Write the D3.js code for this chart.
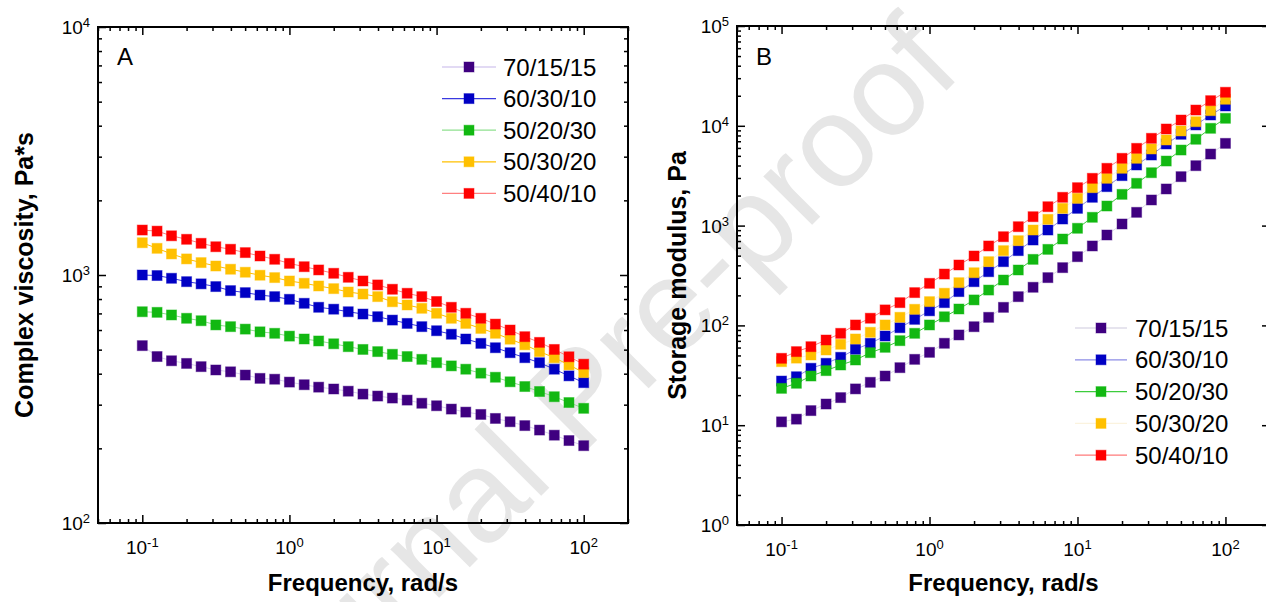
<!DOCTYPE html>
<html><head><meta charset="utf-8">
<script src="https://cdn.jsdelivr.net/npm/d3@7"></script>
<style>
body{margin:0;background:#fff}
svg{display:block}
text{font-family:"Liberation Sans",Arial,sans-serif}
</style>
</head><body>
<svg id="chart" width="1266" height="602"></svg>
<script>
// ---------- DATA ----------
const frequency = [0.1,0.126,0.158,0.2,0.251,0.316,0.398,0.501,0.631,0.794,1,1.26,1.58,2,2.51,3.16,3.98,5.01,6.31,7.94,10,12.6,15.8,20,25.1,31.6,39.8,50.1,63.1,79.4,100];
const seriesNames = ["70/15/15","60/30/10","50/20/30","50/30/20","50/40/10"];

// Panel A: complex viscosity (Pa*s)
const viscosity_70_15_15 = [519,469,451,440,427,414,407,395,383,380,370,361,353,347,340,331,325,319,313,304,297,288,280,274,264,256,247,237,226,215,205];
const viscosity_60_30_10 = [1000,995,970,940,921,898,865,849,830,818,798,769,741,728,711,696,679,658,638,619,596,577,552,530,509,486,464,443,417,392,368];
const viscosity_50_20_30 = [711,707,690,669,654,629,619,605,590,582,567,552,542,528,514,501,491,479,469,457,443,430,417,402,387,371,355,339,323,306,290];
const viscosity_50_30_20 = [1349,1281,1216,1161,1122,1087,1055,1026,998,976,946,926,903,881,854,838,818,780,757,734,701,669,638,609,582,551,523,491,464,434,404];
const viscosity_50_40_10 = [1518,1503,1439,1393,1342,1300,1270,1231,1193,1157,1114,1080,1048,1016,979,946,912,876,844,818,782,741,701,669,634,600,564,535,501,468,437];

// Panel B: storage modulus (Pa)
const storage_70_15_15 = [10.8,11.5,14.0,16.3,18.9,23.1,26.9,31.1,37.7,45.7,53.7,66.2,80.2,97.0,120.5,151.7,194,241,301,379,488,625,805,1038,1358,1806,2328,3093,3984,5212,6670];
const storage_60_30_10 = [27.7,30.6,37.2,41.7,47.9,57.6,66.2,78.3,94.8,115,140,169,218,274,345,435,561,717,903,1164,1489,1921,2455,3166,4048,5096,6574,8223,10190,12830,15790];
const storage_50_20_30 = [23.4,26.3,31.1,35.2,40.1,45.0,53.3,60.3,70.3,83.3,101,122,146,180,226,285,359,459,578,734,940,1211,1571,2057,2652,3388,4436,5717,7328,9438,11890];
const storage_50_30_20 = [43.3,47,50.5,56.7,64.7,73.1,85.3,101,120.6,145,173,210,268,337,435,561,706,903,1156,1489,1875,2399,2977,3751,4724,5859,7208,8872,10990,14170,18440];
const storage_50_40_10 = [46.8,54.6,61.2,71.4,83.3,101,118,143,169,213,264,327,403,496,625,774,975,1228,1546,1921,2399,2977,3751,4724,5946,7493,9290,11430,14390,17860,21680];

const xDomain = [0.05, 200];
const yDomainA = [100, 10000];
const yDomainB = [1, 100000];

// ---------- STYLES ----------
const markerColors = ["#3f0080","#0000c4","#12b812","#ffc000","#ff0000"];
const lineColorsA = ["#d9cef0","#3a3ae0","#8fe08f","#ffc000","#ff8080"];
const lineColorsB = ["#dedbe8","#8c8ce6","#3ccc3c","#fbf3de","#ff7a7a"];

const svg = d3.select("#chart");

// watermark (behind everything)
svg.append("text")
  .attr("transform","translate(609,428) rotate(-45)")
  .attr("text-anchor","middle")
  .attr("font-size",130)
  .attr("fill","#e6e6e6")
  .text("Journal Pre-proof");

const isMajor = v => Math.abs(Math.log10(v) - Math.round(Math.log10(v))) < 1e-6;

function addPow(sel, v){
  const e = Math.round(Math.log10(v));
  sel.text("10");
  sel.append("tspan").attr("dy",-7).attr("font-size",13).text(String(e));
}

function drawPanel(p){
  const x = d3.scaleLog().domain(xDomain).range([p.left, p.right]);
  const y = d3.scaleLog().domain(p.yDomain).range([p.bottom, p.top]);
  const g = svg.append("g");

  // series
  p.series.forEach((vals, i) => {
    const pts = frequency.map((f, j) => [f, vals[j]]);
    g.append("path")
      .attr("d", d3.line().x(d => x(d[0])).y(d => y(d[1]))(pts))
      .attr("fill","none").attr("stroke", p.lineColors[i]).attr("stroke-width",1);
    g.append("g").selectAll("rect").data(pts).join("rect")
      .attr("x", d => x(d[0]) - 5).attr("y", d => y(d[1]) - 5)
      .attr("width",10).attr("height",10)
      .attr("fill", markerColors[i])
      .attr("stroke", markerColors[i]).attr("stroke-opacity",0.45).attr("stroke-width",1);
  });

  const xt = x.ticks();
  const yt = y.ticks();
  const tl = (sel) => sel.selectAll(".tick line").attr("stroke","#000").attr("stroke-width",1.5);

  g.append("g").attr("transform",`translate(0,${p.bottom})`)
    .call(d3.axisBottom(x).tickValues(xt).tickFormat("").tickSizeOuter(0).tickSizeInner(-8))
    .call(a => a.select(".domain").remove())
    .call(tl)
    .call(a => a.selectAll(".tick line").attr("y2", d => isMajor(d) ? -8 : -4));
  g.append("g").attr("transform",`translate(0,${p.top})`)
    .call(d3.axisTop(x).tickValues(xt).tickFormat("").tickSizeOuter(0).tickSizeInner(-8))
    .call(a => a.select(".domain").remove())
    .call(tl)
    .call(a => a.selectAll(".tick line").attr("y2", d => isMajor(d) ? 8 : 4));
  g.append("g").attr("transform",`translate(${p.left},0)`)
    .call(d3.axisLeft(y).tickValues(yt).tickFormat("").tickSizeOuter(0).tickSizeInner(-8))
    .call(a => a.select(".domain").remove())
    .call(tl)
    .call(a => a.selectAll(".tick line").attr("x2", d => isMajor(d) ? 8 : 4));
  g.append("g").attr("transform",`translate(${p.right},0)`)
    .call(d3.axisRight(y).tickValues(yt).tickFormat("").tickSizeOuter(0).tickSizeInner(-8))
    .call(a => a.select(".domain").remove())
    .call(tl)
    .call(a => a.selectAll(".tick line").attr("x2", d => isMajor(d) ? -8 : -4));

  g.append("rect").attr("x",p.left).attr("y",p.top)
    .attr("width",p.right-p.left).attr("height",p.bottom-p.top)
    .attr("fill","none").attr("stroke","#000").attr("stroke-width",2);

  // tick labels
  g.selectAll(null).data(xt.filter(isMajor)).join("text")
    .attr("x", d => x(d)).attr("y", p.bottom + 31)
    .attr("text-anchor","middle").attr("font-size",19).attr("fill","#000")
    .each(function(d){ addPow(d3.select(this), d); });
  g.selectAll(null).data(yt.filter(isMajor)).join("text")
    .attr("x", p.left - 8).attr("y", d => y(d) + 7)
    .attr("text-anchor","end").attr("font-size",19).attr("fill","#000")
    .each(function(d){ addPow(d3.select(this), d); });

  // axis titles
  g.append("text").attr("x",(p.left+p.right)/2).attr("y",591)
    .attr("text-anchor","middle").attr("font-size",24).attr("font-weight","bold")
    .text("Frequency, rad/s");
  g.append("text")
    .attr("transform",`translate(${p.ytitleX},${(p.top+p.bottom)/2}) rotate(-90)`)
    .attr("text-anchor","middle").attr("font-size",25).attr("font-weight","bold")
    .text(p.ytitle);

  // panel letter
  g.append("text").attr("x",p.left+19).attr("y",65).attr("font-size",24).text(p.letter);

  // legend
  seriesNames.forEach((name, i) => {
    const ly = p.legY + i * p.legStep;
    const lg = g.append("g");
    lg.append("line").attr("x1",p.legX1).attr("x2",p.legX2).attr("y1",ly).attr("y2",ly)
      .attr("stroke",p.lineColors[i]).attr("stroke-width",1.3);
    lg.append("rect").attr("x",(p.legX1+p.legX2)/2-5).attr("y",ly-5).attr("width",10).attr("height",10)
      .attr("fill",markerColors[i]).attr("stroke",markerColors[i]).attr("stroke-opacity",0.45);
    lg.append("text").attr("x",p.legText).attr("y",ly+8.5).attr("font-size",24).text(name);
  });
}

drawPanel({
  left:98, right:628, top:27, bottom:523, yDomain:yDomainA,
  series:[viscosity_70_15_15,viscosity_60_30_10,viscosity_50_20_30,viscosity_50_30_20,viscosity_50_40_10],
  lineColors:lineColorsA, ytitle:"Complex viscosity, Pa*s", ytitleX:33, letter:"A",
  legX1:442, legX2:496, legText:503, legY:67, legStep:31.6
});
drawPanel({
  left:737, right:1270, top:26, bottom:525, yDomain:yDomainB,
  series:[storage_70_15_15,storage_60_30_10,storage_50_20_30,storage_50_30_20,storage_50_40_10],
  lineColors:lineColorsB, ytitle:"Storage modulus, Pa", ytitleX:686, letter:"B",
  legX1:1075, legX2:1127, legText:1135, legY:328, legStep:31.8
});
</script>
</body></html>
